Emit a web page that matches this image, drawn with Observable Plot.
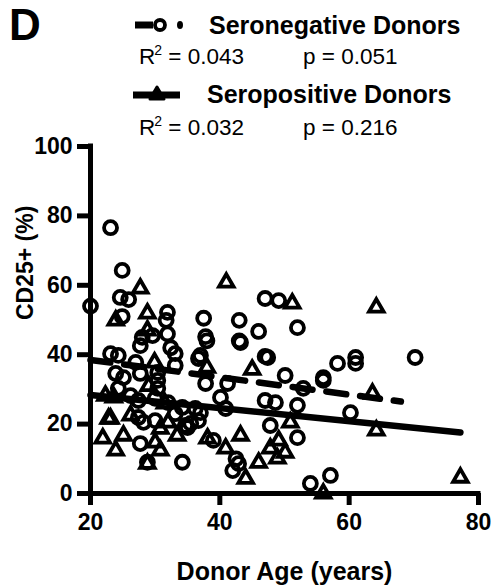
<!DOCTYPE html>
<html>
<head>
<meta charset="utf-8">
<script src="https://cdn.jsdelivr.net/npm/d3@7"></script>
<script src="https://cdn.jsdelivr.net/npm/@observablehq/plot@0.6"></script>
<style>
  html, body { margin: 0; padding: 0; background: white; }
  body { width: 495px; height: 585px; overflow: hidden; font-family: "Liberation Sans", Arial, sans-serif; color: black; }
  #header { position: relative; width: 495px; height: 130px; }
  #header div { position: absolute; white-space: nowrap; }
  .big { font-size: 44px; font-weight: bold; line-height: 44px; }
  .name { font-size: 25px; font-weight: bold; line-height: 25px; }
  .stat { font-size: 22.5px; line-height: 22.5px; }
  .stat sup { font-size: 14px; vertical-align: 0; position: relative; top: -9px; margin-left: -1px; }
  #chart svg { display: block; }
</style>
</head>
<body>
<div id="header"></div>
<div id="chart"></div>
<script>
// ---- data ----
const panelLetter = "D";
const seriesNames = ["Seronegative Donors", "Seropositive Donors"];
const r2Values = ["0.043", "0.032"];
const pValues = ["0.051", "0.216"];
const xLabel = "Donor Age (years)";
const yLabel = "CD25+ (%)";
const xTicks = [20, 40, 60, 80];
const yTicks = [0, 20, 40, 60, 80, 100];

// Seronegative donors (open circles)
const negAge = [20, 23.1, 24.9, 24.6, 25.9, 24.9, 31.9, 28, 31.7, 31.9, 29.6, 32.4, 33.1, 27.7, 23.1, 24.3, 27, 33.1, 36.7,
  23.9, 25.1, 27.7, 30.4, 30.4, 30.4, 30, 24.3, 26.2, 27.4, 32, 34.2, 36.2, 33.1, 27.4, 30, 34.7, 36.7,
  28.8, 34.2, 27.7, 28.2, 35,
  37.5, 37.8, 43, 43, 46, 47, 47, 49.1, 52, 38, 43.2, 37, 47.4, 50.1, 56, 58.2, 61, 61, 70.2, 52.9, 47, 48.6, 52,
  37, 40.9, 40.1, 37.8, 41.2, 56, 60.2,
  47.8, 52, 39, 42.9, 42, 42.5, 35.5, 54, 57.1];
const negVal = [54, 76.6, 64.3, 56.5, 55.9, 51, 52.2, 45, 49.9, 46, 45.5, 42, 40.3, 42.6, 40.3, 39.8, 37.8, 36.9, 38.9,
  34.6, 33.4, 34.6, 34.9, 32.6, 30.3, 27.4, 30.3, 28.2, 26.8, 26.2, 24.8, 24.5, 23, 21.9, 21, 19.6, 21,
  9, 9, 14.4, 20.5, 19,
  50.5, 45.2, 49.9, 44, 46.7, 39.5, 56.2, 55.6, 47.8, 44, 43.5, 39.8, 39.2, 34, 33.4, 37.5, 39.2, 37.5, 39.2, 30.3, 26.8, 26.2, 25.4,
  23.3, 24.5, 27.7, 31.7, 31.7, 32.6, 23.3,
  19.6, 16.1, 15.3, 8.6, 6.6, 10, 20.2, 2.9, 5.2];

// Seropositive donors (open triangles)
const posAge = [28.8, 27.7, 23.9, 28.8, 29.9, 41, 51.2, 38, 45, 64.2, 64.2, 77.2, 63.6,
  50.9, 49.1, 47.8, 50.1, 48.9, 43.2, 46, 40.9, 38.1, 44, 56,
  23.1, 26.2, 21.9, 25.1, 23.9, 28.8, 30.8, 30, 33.4, 30.8, 32, 22.3, 23.6, 22.8, 29, 31.5];
const posVal = [51.9, 59.1, 49.9, 47, 37.8, 60.8, 54.8, 36.3, 35.7, 53.6, 18.2, 4.6, 28.8,
  20.5, 15.3, 13, 11.8, 10.1, 16.7, 8.9, 13, 15.9, 4.3, 0,
  21.6, 22.5, 15.9, 16.7, 12.4, 8.6, 12.4, 14.7, 16.7, 18.7, 20.5, 28.2, 27.7, 21.6, 31, 26];

// Regression lines (end points)
const negFitAge = [20, 68];
const negFitVal = [38.5, 26.5];
const posFitAge = [20, 77.2];
const posFitVal = [28.4, 17.6];

// ---- build tables ----
const neg = negAge.map((a, i) => ({age: a, val: negVal[i]}));
const pos = posAge.map((a, i) => ({age: a, val: posVal[i]}));
const negFit = negFitAge.map((a, i) => ({age: a, val: negFitVal[i]}));
const posFit = posFitAge.map((a, i) => ({age: a, val: posFitVal[i]}));

// ---- header (panel letter + legend) ----
const header = document.getElementById("header");
const swNeg = `<svg width="60" height="24" viewBox="0 0 60 24">
  <line x1="2" y1="12" x2="20" y2="12" stroke="black" stroke-width="7"/>
  <circle cx="27" cy="12" r="5" fill="none" stroke="black" stroke-width="3.8"/>
  <ellipse cx="47" cy="12" rx="3" ry="4" fill="black"/>
</svg>`;
const swPos = `<svg width="60" height="24" viewBox="0 0 60 24">
  <line x1="0" y1="12" x2="47" y2="12" stroke="black" stroke-width="7"/>
  <path d="M24,4 L31,16 L17,16 Z" fill="black" stroke="black" stroke-width="3" stroke-linejoin="round"/>
</svg>`;
header.innerHTML = `
  <div class="big" style="left:9px; top:3px;">${panelLetter}</div>
  <div style="left:133px; top:13px;">${swNeg}</div>
  <div class="name" style="left:209px; top:12.5px;">${seriesNames[0]}</div>
  <div class="stat" style="left:139px; top:45.5px;">R<sup>2</sup> = ${r2Values[0]}</div>
  <div class="stat" style="left:303px; top:45.5px;">p = ${pValues[0]}</div>
  <div style="left:133px; top:83px;">${swPos}</div>
  <div class="name" style="left:207px; top:81.5px;">${seriesNames[1]}</div>
  <div class="stat" style="left:139px; top:116.5px;">R<sup>2</sup> = ${r2Values[1]}</div>
  <div class="stat" style="left:303px; top:116.5px;">p = ${pValues[1]}</div>
`;

// ---- chart ----
const chart = Plot.plot({
  width: 495,
  height: 455,
  marginTop: 16,
  marginBottom: 92,
  marginLeft: 90,
  marginRight: 17,
  style: {fontFamily: "'Liberation Sans', Arial, sans-serif", color: "black", background: "white", overflow: "visible"},
  x: {domain: [20, 80]},
  y: {domain: [0, 100]},
  marks: [
    Plot.axisX({ticks: xTicks, tickSize: 12, tickPadding: 8, strokeWidth: 5, fontSize: 23, fontWeight: "bold", label: null}),
    Plot.axisY({ticks: yTicks, tickSize: 13, tickPadding: 5, strokeWidth: 5, fontSize: 23, fontWeight: "bold", label: null}),
    Plot.ruleX([20], {y1: 0, y2: 100, stroke: "black", strokeWidth: 5, strokeLinecap: "square"}),
    Plot.ruleY([0], {x1: 20, x2: 80, stroke: "black", strokeWidth: 5, strokeLinecap: "square"}),
    Plot.dot(neg, {x: "age", y: "val", symbol: "circle", r: 6.5, stroke: "black", strokeWidth: 3.8, fill: "none"}),
    Plot.dot(pos, {x: "age", y: "val", symbol: "triangle", r: 5.4, stroke: "black", strokeWidth: 3.8, fill: "none"}),
    Plot.line(negFit, {x: "age", y: "val", stroke: "black", strokeWidth: 6.5, strokeDasharray: "20,14"}),
    Plot.line(posFit, {x: "age", y: "val", stroke: "black", strokeWidth: 6.5}),
    Plot.text([xLabel], {frameAnchor: "bottom", lineAnchor: "middle", dy: 78, fontSize: 25, fontWeight: "bold", fill: "black"}),
    Plot.text([yLabel], {frameAnchor: "left", rotate: -90, lineAnchor: "middle", dx: -65, fontSize: 23, fontWeight: "bold", fill: "black"})
  ]
});
document.getElementById("chart").appendChild(chart);
</script>
</body>
</html>
